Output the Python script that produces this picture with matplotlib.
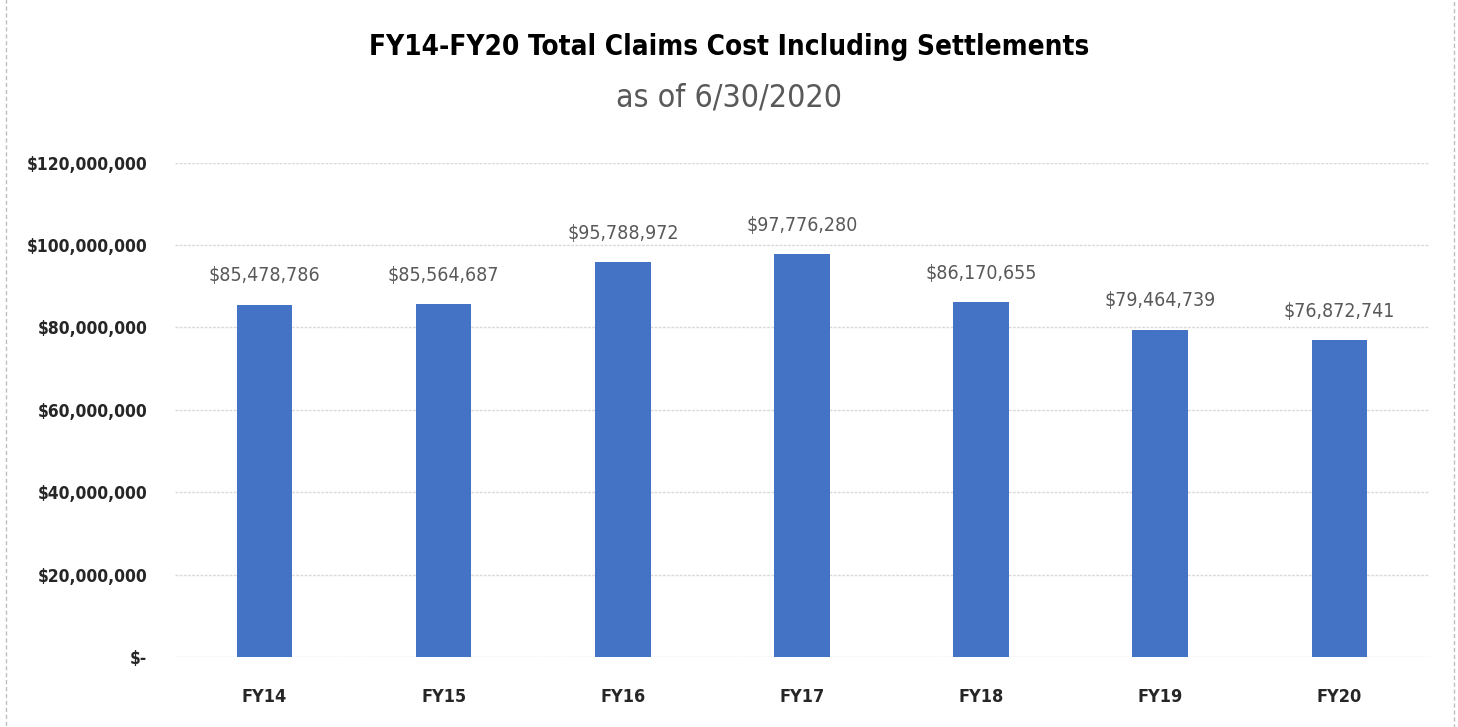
import matplotlib.pyplot as plt
from matplotlib.ticker import FuncFormatter
from matplotlib.patches import Rectangle

years = ["FY14", "FY15", "FY16", "FY17", "FY18", "FY19", "FY20"]
costs = [85478786, 85564687, 95788972, 97776280, 86170655, 79464739, 76872741]
yticks = [0, 20000000, 40000000, 60000000, 80000000, 100000000, 120000000]

plt.rcParams['font.family'] = ['DejaVu Sans']
plt.rcParams['font.stretch'] = 'condensed'

fig = plt.figure(figsize=(14.58, 7.27), dpi=100)
ax = fig.add_axes([0.12, 0.0963, 0.86, 0.68])

ax.bar(years, costs, width=0.31, color="#4472C4", zorder=3)
for i, v in enumerate(costs):
    ax.annotate(f"${v:,}", (i, v), xytext=(0, 14), textcoords="offset points",
                ha="center", va="bottom", fontsize=14, color="#595959",
                fontstretch="condensed")

ax.set_ylim(0, 120000000)
ax.set_xlim(-0.5, len(years) - 0.5)
ax.set_yticks(yticks)
ax.yaxis.set_major_formatter(FuncFormatter(lambda v, p: "$-" if v == 0 else f"${v:,.0f}"))
ax.grid(axis="y", color="#D9D9D9", linestyle=(0, (2, 1)), linewidth=1, zorder=0)
for s in ax.spines.values():
    s.set_visible(False)
ax.tick_params(length=0)
ax.tick_params(axis="y", pad=20, labelsize=12.5)
ax.tick_params(axis="x", pad=22, labelsize=13)
for lbl in ax.get_xticklabels() + ax.get_yticklabels():
    lbl.set_fontweight("bold")
    lbl.set_fontstretch("condensed")
    lbl.set_color("#262626")

fig.text(0.5, 0.936, "FY14-FY20 Total Claims Cost Including Settlements",
         ha="center", va="center", fontsize=20, fontweight="bold", color="black",
         fontstretch="condensed")
fig.text(0.5, 0.865, "as of 6/30/2020", ha="center", va="center",
         fontsize=23, color="#595959", fontstretch="condensed")

fig.patches.append(Rectangle((0.004, -0.01), 0.993, 1.02, transform=fig.transFigure,
                             fill=False, edgecolor="#BFBFBF", linestyle=(0, (3, 2)),
                             linewidth=1))

fig.savefig("out.png")
